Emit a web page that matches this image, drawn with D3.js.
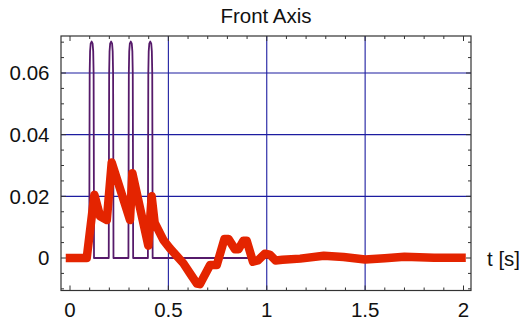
<!DOCTYPE html>
<html><head><meta charset="utf-8">
<script src="https://cdn.jsdelivr.net/npm/d3@7"></script>
<style>body{margin:0;background:#fff}svg{display:block}text{font-family:"Liberation Sans",Arial,sans-serif;fill:#111}</style>
</head><body><svg id="c" width="524" height="322"></svg>
<script>
const title = "Front Axis";
const xLabel = "t [s]";
const xTicks = [0, 0.5, 1, 1.5, 2];
const xTickLabels = ["0", "0.5", "1", "1.5", "2"];
const yTicks = [0, 0.02, 0.04, 0.06];
const yTickLabels = ["0", "0.02", "0.04", "0.06"];
const xGrid = [0.5, 1, 1.5];
const yGrid = [0.02, 0.04, 0.06];
// purple pulse series (t, value)
const pulseT = [0, 0.098,0.099,0.100,0.102,0.105,0.110,0.115,0.118,0.120,0.121,0.122,
  0.197,0.198,0.199,0.201,0.204,0.209,0.214,0.217,0.219,0.220,0.221,
  0.297,0.298,0.299,0.301,0.304,0.309,0.314,0.317,0.319,0.320,0.321,
  0.396,0.397,0.398,0.400,0.403,0.408,0.413,0.416,0.418,0.419,0.420, 2.0];
const pulseV = [0, 0,0.035,0.060,0.067,0.0695,0.0702,0.0695,0.067,0.060,0.035,0,
  0,0.035,0.060,0.067,0.0695,0.0702,0.0695,0.067,0.060,0.035,0,
  0,0.035,0.060,0.067,0.0695,0.0702,0.0695,0.067,0.060,0.035,0,
  0,0.035,0.060,0.067,0.0695,0.0702,0.0695,0.067,0.060,0.035,0, 0];
// red response series
const respT = [0,0.085,0.124,0.153,0.187,0.212,0.305,0.317,0.398,0.415,0.43,0.475,0.508,0.576,0.61,0.645,0.66,0.712,0.746,0.785,0.805,0.839,0.856,0.881,0.898,0.93,0.955,0.99,1.015,1.045,1.08,1.17,1.29,1.39,1.5,1.6,1.7,1.85,1.99];
const respV = [0,0,0.0205,0.0135,0.0123,0.031,0.0123,0.0275,0.004,0.020,0.0115,0.0058,0.0031,-0.0017,-0.005,-0.0083,-0.0085,-0.0023,-0.0023,0.0062,0.0062,0.0028,0.0028,0.0056,0.0056,-0.0012,-0.0008,0.0014,0.0011,-0.0008,-0.0006,-0.0002,0.0007,0.0003,-0.0005,-0.0001,0.0004,0.0001,0.0001];

const svg = d3.select("#c");
const L = 61, R = 471, T = 36, B = 290.5;
const x = d3.scaleLinear().domain([0, 2]).range([70, 463.5]);
const y = d3.scaleLinear().domain([0, 0.06]).range([258, 73]);
const gridC = "#1c1ca0";

// grid
svg.selectAll(".gx").data(xGrid).enter().append("line")
  .attr("x1", d => x(d)).attr("x2", d => x(d)).attr("y1", T).attr("y2", B)
  .attr("stroke", gridC).attr("stroke-width", 1.1);
svg.selectAll(".gy").data(yGrid).enter().append("line")
  .attr("y1", d => y(d)).attr("y2", d => y(d)).attr("x1", L).attr("x2", R)
  .attr("stroke", gridC).attr("stroke-width", 1.1);

// ticks (inward, all four sides)
const tk = svg.append("g").attr("stroke", "#333").attr("stroke-width", 1);
const xMinor = d3.range(0, 21).map(i => i / 10);
xMinor.forEach(v => {
  const major = xTicks.some(t => Math.abs(t - v) < 1e-9);
  const len = major ? 5 : 3;
  tk.append("line").attr("x1", x(v)).attr("x2", x(v)).attr("y1", B).attr("y2", B - len);
  tk.append("line").attr("x1", x(v)).attr("x2", x(v)).attr("y1", T).attr("y2", T + len);
});
const yMinor = d3.range(-2, 15).map(i => i * 0.005);
yMinor.forEach(v => {
  const major = yTicks.some(t => Math.abs(t - v) < 1e-9);
  const len = major ? 5 : 3;
  tk.append("line").attr("y1", y(v)).attr("y2", y(v)).attr("x1", L).attr("x2", L + len);
  tk.append("line").attr("y1", y(v)).attr("y2", y(v)).attr("x1", R).attr("x2", R - len);
});

// clip
svg.append("clipPath").attr("id", "cp").append("rect").attr("x", L).attr("y", T).attr("width", R - L).attr("height", B - T);
const plot = svg.append("g").attr("clip-path", "url(#cp)");

const line = d3.line().x(d => x(d[0])).y(d => y(d[1]));
plot.append("path").datum(pulseT.map((t, i) => [t, pulseV[i]]))
  .attr("d", line).attr("fill", "none").attr("stroke", "#561a6a").attr("stroke-width", 1.8)
  .attr("stroke-linejoin", "round");
plot.append("path").datum(respT.map((t, i) => [t, respV[i]]))
  .attr("d", line).attr("fill", "none").attr("stroke", "#e42400").attr("stroke-width", 8.5)
  .attr("stroke-linejoin", "round").attr("stroke-linecap", "square");

// frame
svg.append("rect").attr("x", L).attr("y", T).attr("width", R - L).attr("height", B - T)
  .attr("fill", "none").attr("stroke", "#333").attr("stroke-width", 1.2);

// labels
svg.selectAll(".xl").data(xTicks).enter().append("text")
  .attr("x", d => x(d)).attr("y", 316.5).attr("text-anchor", "middle")
  .style("font-size", "20.5px").text((d, i) => xTickLabels[i]);
svg.selectAll(".yl").data(yTicks).enter().append("text")
  .attr("x", 49.5).attr("y", d => y(d) + 7.3).attr("text-anchor", "end")
  .style("font-size", "20.5px").text((d, i) => yTickLabels[i]);
svg.append("text").attr("x", 487).attr("y", 265.5).style("font-size", "20.5px").text(xLabel);
svg.append("text").attr("x", (L + R) / 2).attr("y", 22.7).attr("text-anchor", "middle")
  .style("font-size", "20.5px").text(title);
</script></body></html>
